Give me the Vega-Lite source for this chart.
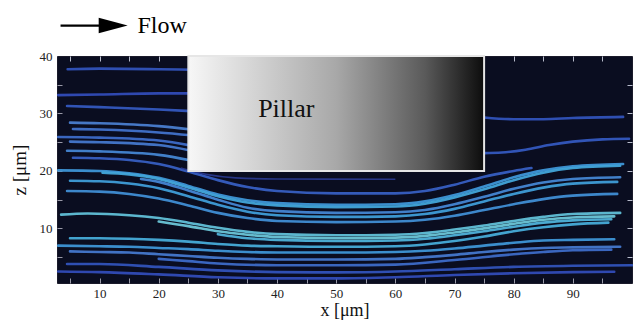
{
  "$schema": "https://vega.github.io/schema/vega-lite/v6.json",
  "autosize": "none",
  "width": 575,
  "height": 227,
  "padding": {"left": 57, "top": 56, "right": 1, "bottom": 40},
  "background": "white",
  "config": {
    "view": {"fill": "#0a0d20", "stroke": "#1a1a2a"},
    "font": "Liberation Serif",
    "axis": {"labelFont": "Liberation Serif", "titleFont": "Liberation Serif", "labelColor": "#222", "titleColor": "#111", "titleFontWeight": "normal", "grid": false, "domain": false}
  },
  "datasets": {
    "lines": [
      {"id": "U1", "s": 0.15, "x": 4.6, "z": 37.7}, {"id": "U1", "s": 0.15, "x": 10, "z": 37.8}, {"id": "U1", "s": 0.15, "x": 20, "z": 37.7}, {"id": "U1", "s": 0.15, "x": 25.5, "z": 37.6},
      {"id": "U2", "s": 0.1, "x": 3, "z": 33.2}, {"id": "U2", "s": 0.1, "x": 10, "z": 33.3}, {"id": "U2", "s": 0.1, "x": 20, "z": 33.5}, {"id": "U2", "s": 0.1, "x": 25.5, "z": 33.5},
      {"id": "U3", "s": 0.2, "x": 4.5, "z": 31.3}, {"id": "U3", "s": 0.2, "x": 10, "z": 31.1}, {"id": "U3", "s": 0.2, "x": 20, "z": 30.7}, {"id": "U3", "s": 0.2, "x": 25.5, "z": 30.4},
      {"id": "U4", "s": 0.5, "x": 5, "z": 28.4}, {"id": "U4", "s": 0.5, "x": 10, "z": 28.3}, {"id": "U4", "s": 0.5, "x": 20, "z": 27.8}, {"id": "U4", "s": 0.5, "x": 25.5, "z": 27.2},
      {"id": "U5", "s": 0.4, "x": 5.5, "z": 27.3}, {"id": "U5", "s": 0.4, "x": 10, "z": 27.2}, {"id": "U5", "s": 0.4, "x": 20, "z": 26.7}, {"id": "U5", "s": 0.4, "x": 25.5, "z": 26.2},
      {"id": "U6", "s": 0.35, "x": 3, "z": 25.9}, {"id": "U6", "s": 0.35, "x": 10, "z": 25.8}, {"id": "U6", "s": 0.35, "x": 20, "z": 25.3}, {"id": "U6", "s": 0.35, "x": 25.5, "z": 24.4},
      {"id": "U7", "s": 0.45, "x": 5, "z": 25.1}, {"id": "U7", "s": 0.45, "x": 10, "z": 25.0}, {"id": "U7", "s": 0.45, "x": 20, "z": 24.5}, {"id": "U7", "s": 0.45, "x": 25.5, "z": 23.5},
      {"id": "U8", "s": 0.55, "x": 4.5, "z": 23.5}, {"id": "U8", "s": 0.55, "x": 10, "z": 23.4}, {"id": "U8", "s": 0.55, "x": 20, "z": 22.8}, {"id": "U8", "s": 0.55, "x": 25.5, "z": 21.8},
      {"id": "A", "s": 0.25, "x": 5.5, "z": 22.3}, {"id": "A", "s": 0.25, "x": 10, "z": 22.2}, {"id": "A", "s": 0.25, "x": 15, "z": 21.9}, {"id": "A", "s": 0.25, "x": 20, "z": 21.2}, {"id": "A", "s": 0.25, "x": 25, "z": 19.9}, {"id": "A", "s": 0.25, "x": 30, "z": 18.4}, {"id": "A", "s": 0.25, "x": 35, "z": 17.2}, {"id": "A", "s": 0.25, "x": 40, "z": 16.5}, {"id": "A", "s": 0.25, "x": 50, "z": 16.1}, {"id": "A", "s": 0.25, "x": 60, "z": 16.1}, {"id": "A", "s": 0.25, "x": 65, "z": 16.5}, {"id": "A", "s": 0.25, "x": 70, "z": 17.6}, {"id": "A", "s": 0.25, "x": 75, "z": 19.0}, {"id": "A", "s": 0.25, "x": 80, "z": 20.0}, {"id": "A", "s": 0.25, "x": 83, "z": 20.5},
      {"id": "L2", "s": 0.65, "x": 3, "z": 20.1}, {"id": "L2", "s": 0.65, "x": 10, "z": 20.0}, {"id": "L2", "s": 0.65, "x": 15, "z": 19.6}, {"id": "L2", "s": 0.65, "x": 20, "z": 18.8}, {"id": "L2", "s": 0.65, "x": 25, "z": 17.4}, {"id": "L2", "s": 0.65, "x": 30, "z": 15.9}, {"id": "L2", "s": 0.65, "x": 35, "z": 14.9}, {"id": "L2", "s": 0.65, "x": 40, "z": 14.4}, {"id": "L2", "s": 0.65, "x": 50, "z": 14.1}, {"id": "L2", "s": 0.65, "x": 60, "z": 14.2}, {"id": "L2", "s": 0.65, "x": 65, "z": 14.7}, {"id": "L2", "s": 0.65, "x": 70, "z": 15.8}, {"id": "L2", "s": 0.65, "x": 75, "z": 17.3}, {"id": "L2", "s": 0.65, "x": 80, "z": 18.9}, {"id": "L2", "s": 0.65, "x": 85, "z": 20.1}, {"id": "L2", "s": 0.65, "x": 90, "z": 20.8}, {"id": "L2", "s": 0.65, "x": 98.5, "z": 21.2},
      {"id": "L3", "s": 0.75, "x": 10.5, "z": 19.7}, {"id": "L3", "s": 0.75, "x": 15, "z": 19.4}, {"id": "L3", "s": 0.75, "x": 20, "z": 18.6}, {"id": "L3", "s": 0.75, "x": 25, "z": 17.1}, {"id": "L3", "s": 0.75, "x": 30, "z": 15.6}, {"id": "L3", "s": 0.75, "x": 35, "z": 14.5}, {"id": "L3", "s": 0.75, "x": 40, "z": 14.0}, {"id": "L3", "s": 0.75, "x": 50, "z": 13.7}, {"id": "L3", "s": 0.75, "x": 60, "z": 13.8}, {"id": "L3", "s": 0.75, "x": 65, "z": 14.3}, {"id": "L3", "s": 0.75, "x": 70, "z": 15.4}, {"id": "L3", "s": 0.75, "x": 75, "z": 16.8}, {"id": "L3", "s": 0.75, "x": 80, "z": 18.4}, {"id": "L3", "s": 0.75, "x": 85, "z": 19.7}, {"id": "L3", "s": 0.75, "x": 90, "z": 20.5}, {"id": "L3", "s": 0.75, "x": 98, "z": 20.9},
      {"id": "L4", "s": 0.55, "x": 17, "z": 18.6}, {"id": "L4", "s": 0.55, "x": 20, "z": 18.1}, {"id": "L4", "s": 0.55, "x": 25, "z": 16.6}, {"id": "L4", "s": 0.55, "x": 30, "z": 15.0}, {"id": "L4", "s": 0.55, "x": 35, "z": 13.6}, {"id": "L4", "s": 0.55, "x": 40, "z": 13.0}, {"id": "L4", "s": 0.55, "x": 50, "z": 12.7}, {"id": "L4", "s": 0.55, "x": 60, "z": 12.8}, {"id": "L4", "s": 0.55, "x": 65, "z": 13.2}, {"id": "L4", "s": 0.55, "x": 70, "z": 14.2}, {"id": "L4", "s": 0.55, "x": 75, "z": 15.5}, {"id": "L4", "s": 0.55, "x": 80, "z": 16.9}, {"id": "L4", "s": 0.55, "x": 85, "z": 18.0}, {"id": "L4", "s": 0.55, "x": 90, "z": 18.6}, {"id": "L4", "s": 0.55, "x": 98, "z": 18.9},
      {"id": "L5", "s": 0.7, "x": 5, "z": 18.3}, {"id": "L5", "s": 0.7, "x": 10, "z": 18.2}, {"id": "L5", "s": 0.7, "x": 15, "z": 17.8}, {"id": "L5", "s": 0.7, "x": 20, "z": 17.0}, {"id": "L5", "s": 0.7, "x": 25, "z": 15.6}, {"id": "L5", "s": 0.7, "x": 30, "z": 14.1}, {"id": "L5", "s": 0.7, "x": 35, "z": 12.9}, {"id": "L5", "s": 0.7, "x": 40, "z": 12.3}, {"id": "L5", "s": 0.7, "x": 50, "z": 12.0}, {"id": "L5", "s": 0.7, "x": 60, "z": 12.1}, {"id": "L5", "s": 0.7, "x": 65, "z": 12.5}, {"id": "L5", "s": 0.7, "x": 70, "z": 13.4}, {"id": "L5", "s": 0.7, "x": 75, "z": 14.7}, {"id": "L5", "s": 0.7, "x": 80, "z": 16.0}, {"id": "L5", "s": 0.7, "x": 85, "z": 17.1}, {"id": "L5", "s": 0.7, "x": 90, "z": 17.8}, {"id": "L5", "s": 0.7, "x": 97.5, "z": 18.1},
      {"id": "L6", "s": 0.6, "x": 4.5, "z": 16.5}, {"id": "L6", "s": 0.6, "x": 10, "z": 16.4}, {"id": "L6", "s": 0.6, "x": 15, "z": 16.0}, {"id": "L6", "s": 0.6, "x": 20, "z": 15.2}, {"id": "L6", "s": 0.6, "x": 25, "z": 14.0}, {"id": "L6", "s": 0.6, "x": 30, "z": 12.7}, {"id": "L6", "s": 0.6, "x": 35, "z": 11.8}, {"id": "L6", "s": 0.6, "x": 40, "z": 11.3}, {"id": "L6", "s": 0.6, "x": 50, "z": 11.1}, {"id": "L6", "s": 0.6, "x": 60, "z": 11.2}, {"id": "L6", "s": 0.6, "x": 65, "z": 11.5}, {"id": "L6", "s": 0.6, "x": 70, "z": 12.2}, {"id": "L6", "s": 0.6, "x": 75, "z": 13.2}, {"id": "L6", "s": 0.6, "x": 80, "z": 14.2}, {"id": "L6", "s": 0.6, "x": 85, "z": 15.1}, {"id": "L6", "s": 0.6, "x": 90, "z": 15.7}, {"id": "L6", "s": 0.6, "x": 97.5, "z": 16.0},
      {"id": "L7", "s": 0.95, "x": 3.5, "z": 12.4}, {"id": "L7", "s": 0.95, "x": 8, "z": 12.6}, {"id": "L7", "s": 0.95, "x": 15, "z": 12.3}, {"id": "L7", "s": 0.95, "x": 20, "z": 11.8}, {"id": "L7", "s": 0.95, "x": 25, "z": 11.0}, {"id": "L7", "s": 0.95, "x": 30, "z": 10.1}, {"id": "L7", "s": 0.95, "x": 35, "z": 9.4}, {"id": "L7", "s": 0.95, "x": 40, "z": 9.0}, {"id": "L7", "s": 0.95, "x": 50, "z": 8.8}, {"id": "L7", "s": 0.95, "x": 60, "z": 8.9}, {"id": "L7", "s": 0.95, "x": 65, "z": 9.2}, {"id": "L7", "s": 0.95, "x": 70, "z": 9.8}, {"id": "L7", "s": 0.95, "x": 75, "z": 10.5}, {"id": "L7", "s": 0.95, "x": 80, "z": 11.3}, {"id": "L7", "s": 0.95, "x": 85, "z": 12.0}, {"id": "L7", "s": 0.95, "x": 90, "z": 12.5}, {"id": "L7", "s": 0.95, "x": 98, "z": 12.7},
      {"id": "L8", "s": 1.0, "x": 20, "z": 11.2}, {"id": "L8", "s": 1.0, "x": 25, "z": 10.4}, {"id": "L8", "s": 1.0, "x": 30, "z": 9.5}, {"id": "L8", "s": 1.0, "x": 35, "z": 8.9}, {"id": "L8", "s": 1.0, "x": 40, "z": 8.5}, {"id": "L8", "s": 1.0, "x": 50, "z": 8.3}, {"id": "L8", "s": 1.0, "x": 60, "z": 8.4}, {"id": "L8", "s": 1.0, "x": 65, "z": 8.7}, {"id": "L8", "s": 1.0, "x": 70, "z": 9.3}, {"id": "L8", "s": 1.0, "x": 75, "z": 10.0}, {"id": "L8", "s": 1.0, "x": 80, "z": 10.8}, {"id": "L8", "s": 1.0, "x": 85, "z": 11.5}, {"id": "L8", "s": 1.0, "x": 90, "z": 11.9}, {"id": "L8", "s": 1.0, "x": 97, "z": 12.1},
      {"id": "L9", "s": 0.85, "x": 30, "z": 9.0}, {"id": "L9", "s": 0.85, "x": 35, "z": 8.3}, {"id": "L9", "s": 0.85, "x": 40, "z": 8.0}, {"id": "L9", "s": 0.85, "x": 50, "z": 7.8}, {"id": "L9", "s": 0.85, "x": 60, "z": 7.9}, {"id": "L9", "s": 0.85, "x": 65, "z": 8.2}, {"id": "L9", "s": 0.85, "x": 70, "z": 8.8}, {"id": "L9", "s": 0.85, "x": 75, "z": 9.5}, {"id": "L9", "s": 0.85, "x": 80, "z": 10.3}, {"id": "L9", "s": 0.85, "x": 85, "z": 11.0}, {"id": "L9", "s": 0.85, "x": 90, "z": 11.4}, {"id": "L9", "s": 0.85, "x": 96.5, "z": 11.6},
      {"id": "L10", "s": 0.8, "x": 5, "z": 8.3}, {"id": "L10", "s": 0.8, "x": 10, "z": 8.3}, {"id": "L10", "s": 0.8, "x": 15, "z": 8.2}, {"id": "L10", "s": 0.8, "x": 20, "z": 8.0}, {"id": "L10", "s": 0.8, "x": 25, "z": 7.7}, {"id": "L10", "s": 0.8, "x": 30, "z": 7.3}, {"id": "L10", "s": 0.8, "x": 35, "z": 7.0}, {"id": "L10", "s": 0.8, "x": 40, "z": 6.9}, {"id": "L10", "s": 0.8, "x": 50, "z": 6.8}, {"id": "L10", "s": 0.8, "x": 60, "z": 6.9}, {"id": "L10", "s": 0.8, "x": 65, "z": 7.2}, {"id": "L10", "s": 0.8, "x": 70, "z": 7.8}, {"id": "L10", "s": 0.8, "x": 75, "z": 8.6}, {"id": "L10", "s": 0.8, "x": 80, "z": 9.5}, {"id": "L10", "s": 0.8, "x": 85, "z": 10.2}, {"id": "L10", "s": 0.8, "x": 90, "z": 10.7}, {"id": "L10", "s": 0.8, "x": 96, "z": 11.0},
      {"id": "L11", "s": 0.65, "x": 3, "z": 7.0}, {"id": "L11", "s": 0.65, "x": 10, "z": 6.9}, {"id": "L11", "s": 0.65, "x": 15, "z": 6.8}, {"id": "L11", "s": 0.65, "x": 20, "z": 6.6}, {"id": "L11", "s": 0.65, "x": 25, "z": 6.4}, {"id": "L11", "s": 0.65, "x": 30, "z": 6.1}, {"id": "L11", "s": 0.65, "x": 35, "z": 5.9}, {"id": "L11", "s": 0.65, "x": 40, "z": 5.8}, {"id": "L11", "s": 0.65, "x": 50, "z": 5.8}, {"id": "L11", "s": 0.65, "x": 60, "z": 5.9}, {"id": "L11", "s": 0.65, "x": 65, "z": 6.1}, {"id": "L11", "s": 0.65, "x": 70, "z": 6.5}, {"id": "L11", "s": 0.65, "x": 75, "z": 7.0}, {"id": "L11", "s": 0.65, "x": 80, "z": 7.5}, {"id": "L11", "s": 0.65, "x": 85, "z": 7.9}, {"id": "L11", "s": 0.65, "x": 90, "z": 8.0}, {"id": "L11", "s": 0.65, "x": 97, "z": 8.1},
      {"id": "L12", "s": 0.45, "x": 5, "z": 6.0}, {"id": "L12", "s": 0.45, "x": 10, "z": 5.9}, {"id": "L12", "s": 0.45, "x": 15, "z": 5.8}, {"id": "L12", "s": 0.45, "x": 20, "z": 5.5}, {"id": "L12", "s": 0.45, "x": 25, "z": 5.2}, {"id": "L12", "s": 0.45, "x": 30, "z": 4.9}, {"id": "L12", "s": 0.45, "x": 35, "z": 4.7}, {"id": "L12", "s": 0.45, "x": 40, "z": 4.6}, {"id": "L12", "s": 0.45, "x": 50, "z": 4.6}, {"id": "L12", "s": 0.45, "x": 60, "z": 4.7}, {"id": "L12", "s": 0.45, "x": 65, "z": 5.0}, {"id": "L12", "s": 0.45, "x": 70, "z": 5.4}, {"id": "L12", "s": 0.45, "x": 75, "z": 5.9}, {"id": "L12", "s": 0.45, "x": 80, "z": 6.3}, {"id": "L12", "s": 0.45, "x": 85, "z": 6.6}, {"id": "L12", "s": 0.45, "x": 90, "z": 6.7}, {"id": "L12", "s": 0.45, "x": 98, "z": 6.8},
      {"id": "L13", "s": 0.35, "x": 20, "z": 4.7}, {"id": "L13", "s": 0.35, "x": 25, "z": 4.3}, {"id": "L13", "s": 0.35, "x": 30, "z": 3.9}, {"id": "L13", "s": 0.35, "x": 40, "z": 3.6}, {"id": "L13", "s": 0.35, "x": 50, "z": 3.6}, {"id": "L13", "s": 0.35, "x": 60, "z": 3.7}, {"id": "L13", "s": 0.35, "x": 70, "z": 4.5}, {"id": "L13", "s": 0.35, "x": 80, "z": 5.5}, {"id": "L13", "s": 0.35, "x": 85, "z": 5.9}, {"id": "L13", "s": 0.35, "x": 90, "z": 6.2}, {"id": "L13", "s": 0.35, "x": 96.5, "z": 6.3},
      {"id": "L14", "s": 0.15, "x": 4.5, "z": 3.8}, {"id": "L14", "s": 0.15, "x": 10, "z": 3.8}, {"id": "L14", "s": 0.15, "x": 20, "z": 3.3}, {"id": "L14", "s": 0.15, "x": 30, "z": 2.7}, {"id": "L14", "s": 0.15, "x": 40, "z": 2.4}, {"id": "L14", "s": 0.15, "x": 50, "z": 2.35}, {"id": "L14", "s": 0.15, "x": 60, "z": 2.5}, {"id": "L14", "s": 0.15, "x": 70, "z": 2.9}, {"id": "L14", "s": 0.15, "x": 80, "z": 3.3}, {"id": "L14", "s": 0.15, "x": 90, "z": 3.5}, {"id": "L14", "s": 0.15, "x": 100, "z": 3.6},
      {"id": "L15", "s": 0.1, "x": 3, "z": 2.5}, {"id": "L15", "s": 0.1, "x": 10, "z": 2.4}, {"id": "L15", "s": 0.1, "x": 20, "z": 2.0}, {"id": "L15", "s": 0.1, "x": 30, "z": 1.5}, {"id": "L15", "s": 0.1, "x": 40, "z": 1.3}, {"id": "L15", "s": 0.1, "x": 50, "z": 1.3}, {"id": "L15", "s": 0.1, "x": 60, "z": 1.5}, {"id": "L15", "s": 0.1, "x": 70, "z": 1.9}, {"id": "L15", "s": 0.1, "x": 80, "z": 2.2}, {"id": "L15", "s": 0.1, "x": 90, "z": 2.4}, {"id": "L15", "s": 0.1, "x": 97, "z": 2.45},
      {"id": "R1", "s": 0.15, "x": 75, "z": 29.3}, {"id": "R1", "s": 0.15, "x": 80, "z": 29.0}, {"id": "R1", "s": 0.15, "x": 85, "z": 29.0}, {"id": "R1", "s": 0.15, "x": 90, "z": 29.2}, {"id": "R1", "s": 0.15, "x": 98.5, "z": 29.4},
      {"id": "R2", "s": 0.2, "x": 75, "z": 23.1}, {"id": "R2", "s": 0.2, "x": 78, "z": 23.2}, {"id": "R2", "s": 0.2, "x": 82, "z": 23.7}, {"id": "R2", "s": 0.2, "x": 86, "z": 24.5}, {"id": "R2", "s": 0.2, "x": 90, "z": 25.1}, {"id": "R2", "s": 0.2, "x": 95, "z": 25.5}, {"id": "R2", "s": 0.2, "x": 99.5, "z": 25.6}
    ],
    "thin": [
      {"x": 23.7, "z": 20.5}, {"x": 28, "z": 19.4}, {"x": 33, "z": 18.8}, {"x": 40, "z": 18.6}, {"x": 60, "z": 18.55}
    ],
    "pillar": [{"x": 25, "x2": 75, "z": 20, "z2": 40}],
    "pillarLabel": [{"x": 36.8, "z": 29.4, "t": "Pillar"}],
    "flowLine": [{"x": 3.4, "x2": 10.5, "z": 45.3}],
    "flowHead": [{"x": 12.3, "z": 45.3}],
    "flowLabel": [{"x": 16.4, "z": 44.0, "t": "Flow"}]
  },
  "resolve": {"axis": {"x": "independent", "y": "independent"}},
  "layer": [
    {
      "data": {"name": "lines"},
      "mark": {"type": "line", "interpolate": "monotone", "strokeWidth": 2.6, "strokeCap": "round", "opacity": 0.95},
      "encoding": {
        "x": {"field": "x", "type": "quantitative", "scale": {"domain": [2.8, 100], "nice": false, "zero": false},
          "axis": {"orient": "bottom", "values": [10, 20, 30, 40, 50, 60, 70, 80, 90], "ticks": false, "labelFontSize": 13, "labelPadding": 4, "title": "x [μm]", "titleFontSize": 18, "titlePadding": 1}},
        "y": {"field": "z", "type": "quantitative", "scale": {"domain": [0.5, 40], "nice": false, "zero": false},
          "axis": {"orient": "left", "values": [10, 20, 30, 40], "ticks": false, "labelFontSize": 13, "labelPadding": 5, "title": "z [μm]", "titleFontSize": 19, "titlePadding": 10}},
        "color": {"field": "s", "type": "quantitative", "scale": {"domain": [0, 1], "range": ["#2f3fb0", "#4a7ed0", "#6cc6d8"]}, "legend": null},
        "detail": {"field": "id", "type": "nominal"}
      }
    },
    {
      "data": {"name": "thin"},
      "mark": {"type": "line", "interpolate": "monotone", "strokeWidth": 1.6, "color": "#2a3a90", "opacity": 0.9},
      "encoding": {
        "x": {"field": "x", "type": "quantitative", "axis": {"orient": "bottom", "values": [5, 10, 15, 20, 25, 30, 35, 40, 45, 50, 55, 60, 65, 70, 75, 80, 85, 90, 95], "labels": false, "title": null, "tickSize": -5, "tickColor": "#9a9aa8"}},
        "y": {"field": "z", "type": "quantitative", "axis": {"orient": "left", "values": [5, 10, 15, 20, 25, 30, 35], "labels": false, "title": null, "tickSize": -5, "tickColor": "#9a9aa8"}}
      }
    },
    {
      "data": {"name": "pillar"},
      "mark": {"type": "rect", "stroke": "#e6e6e6", "strokeWidth": 2,
        "fill": {"gradient": "linear", "x1": 0, "y1": 0, "x2": 1, "y2": 0, "stops": [{"offset": 0, "color": "#f7f7f7"}, {"offset": 0.5, "color": "#a8a8a8"}, {"offset": 0.8, "color": "#5a5a5a"}, {"offset": 1, "color": "#0c0c0c"}]}},
      "encoding": {
        "x": {"field": "x", "type": "quantitative", "axis": {"orient": "top", "values": [5, 10, 15, 20, 25, 30, 35, 40, 45, 50, 55, 60, 65, 70, 75, 80, 85, 90, 95], "labels": false, "title": null, "tickSize": -5, "tickColor": "#b8bccc"}},
        "x2": {"field": "x2"},
        "y": {"field": "z", "type": "quantitative", "axis": {"orient": "right", "values": [5, 10, 15, 20, 25, 30, 35], "labels": false, "title": null, "tickSize": -5, "tickColor": "#b8bccc"}},
        "y2": {"field": "z2"}
      }
    },
    {
      "data": {"name": "pillarLabel"},
      "mark": {"type": "text", "font": "Liberation Serif", "fontSize": 26, "align": "left", "baseline": "alphabetic", "color": "#111"},
      "encoding": {
        "x": {"field": "x", "type": "quantitative", "axis": null},
        "y": {"field": "z", "type": "quantitative", "axis": null},
        "text": {"field": "t"}
      }
    },
    {
      "data": {"name": "flowLine"},
      "mark": {"type": "rule", "strokeWidth": 2.2, "color": "black"},
      "encoding": {
        "x": {"field": "x", "type": "quantitative", "axis": null},
        "x2": {"field": "x2"},
        "y": {"field": "z", "type": "quantitative", "axis": null}
      }
    },
    {
      "data": {"name": "flowHead"},
      "mark": {"type": "point", "shape": "M -1 -0.54 L 1 0 L -1 0.54 Z", "size": 841, "filled": true, "color": "black", "opacity": 1},
      "encoding": {
        "x": {"field": "x", "type": "quantitative", "axis": null},
        "y": {"field": "z", "type": "quantitative", "axis": null}
      }
    },
    {
      "data": {"name": "flowLabel"},
      "mark": {"type": "text", "font": "Liberation Serif", "fontSize": 24, "align": "left", "baseline": "alphabetic", "color": "black"},
      "encoding": {
        "x": {"field": "x", "type": "quantitative", "axis": null},
        "y": {"field": "z", "type": "quantitative", "axis": null},
        "text": {"field": "t"}
      }
    }
  ]
}
